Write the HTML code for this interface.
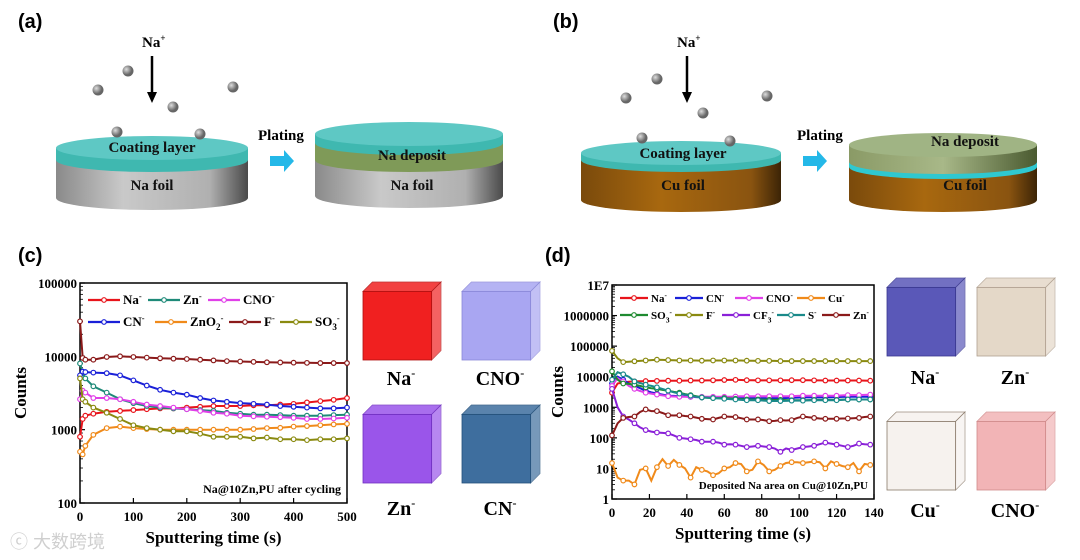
<!DOCTYPE html>
<html><head><meta charset="utf-8"><style>
body{margin:0;background:#fff;}
svg{display:block;font-family:"Liberation Serif",serif;}
.lab{font-family:"Liberation Sans",sans-serif;font-weight:bold;font-size:20px;}
.b{font-weight:bold;}
</style></head><body>
<svg id="fig" width="1080" height="560" viewBox="0 0 1080 560" xmlns="http://www.w3.org/2000/svg">
<defs>
<linearGradient id="gGray" x1="0" x2="1"><stop offset="0" stop-color="#8a8a8a"/><stop offset=".35" stop-color="#c9c9c9"/><stop offset=".8" stop-color="#b0b0b0"/><stop offset="1" stop-color="#4a4a4a"/></linearGradient>
<linearGradient id="gCu" x1="0" x2="1"><stop offset="0" stop-color="#7a4a0c"/><stop offset=".4" stop-color="#a8680f"/><stop offset=".85" stop-color="#8a5410"/><stop offset="1" stop-color="#3c2406"/></linearGradient>
<linearGradient id="gGreen" x1="0" x2="1"><stop offset="0" stop-color="#8a9a66"/><stop offset=".5" stop-color="#a8b888"/><stop offset="1" stop-color="#4a5a30"/></linearGradient>
<radialGradient id="gBall" cx=".35" cy=".35"><stop offset="0" stop-color="#ddd"/><stop offset="1" stop-color="#666"/></radialGradient>
</defs>
<g id="topG"></g>
<g id="chartC"></g>
<g id="chartD"></g>
<g id="cubes"></g>
<text x="10" y="548" font-family="Liberation Sans,Noto Sans CJK SC,sans-serif" font-size="18" fill="#cfcfcf">ⓒ 大数跨境</text>
</svg>
<script>
// ---- chart (c) data ----
const cTimes=[0,5,10,25,50,75,100,125,150,175,200,225,250,275,300,325,350,375,400,425,450,475,500];
const cNa=[800,1400,1550,1650,1750,1800,1850,1900,1950,1950,2000,2050,2100,2100,2100,2150,2150,2200,2250,2350,2450,2550,2700];
const cZn=[8000,6000,5000,3900,3200,2600,2300,2100,2000,1950,1900,1850,1800,1700,1650,1600,1600,1580,1550,1550,1550,1580,1600];
const cCNO=[2600,3400,3200,2700,2700,2600,2400,2200,2100,2000,1900,1800,1700,1650,1550,1520,1500,1480,1450,1400,1400,1420,1450];
const cCN=[5500,6200,6100,6000,5900,5500,4700,4000,3500,3200,3000,2700,2500,2400,2300,2250,2200,2100,2050,2000,1950,1950,2000];
const cZnO2=[500,460,600,850,1050,1100,1050,1020,1000,1000,1000,1000,1000,1000,1000,1020,1050,1060,1100,1120,1150,1180,1200];
const cF=[30000,9500,9000,9000,9800,10000,9800,9600,9400,9300,9200,9000,8800,8600,8500,8400,8300,8250,8200,8150,8100,8100,8100];
const cSO3=[5000,2600,2400,2000,1700,1400,1150,1050,1000,950,950,880,800,800,800,760,780,740,740,720,740,740,760];
const cNames=["Na-","Zn-","CNO-","CN-","ZnO2-","F-","SO3-"];
const cColors=["#e8141b","#1e8a78","#e040e8","#1a20d8","#f08a1a","#8b1a1a","#8a8a10"];
const cYTicks=["100","1000","10000","100000"];
const cXTicks=[0,100,200,300,400,500];
// ---- chart (d) data ----
const dTimes=[0,3,6,9,12,15,18,21,24,27,30,33,36,39,42,45,48,51,54,57,60,63,66,69,72,75,78,81,84,87,90,93,96,99,102,105,108,111,114,117,120,123,126,129,132,135,138];
const dNa=[3000,6000,6500,6800,7000,7100,7200,7250,7300,7350,7400,7400,7400,7450,7500,7500,7500,7550,7600,7700,7800,7850,7900,7800,7700,7650,7600,7600,7600,7600,7600,7650,7700,7700,7700,7650,7600,7550,7500,7500,7500,7500,7500,7500,7500,7450,7400];
const dCN=[6000,10000,8000,6000,5000,4200,3500,3100,2800,2600,2400,2350,2300,2250,2200,2150,2100,2100,2100,2080,2050,2020,2000,2000,2000,2000,2000,2000,2000,2000,2000,2020,2050,2080,2100,2100,2100,2100,2100,2120,2150,2180,2200,2200,2200,2200,2200];
const dCNO=[5000,9000,7000,5000,4000,3400,3000,2800,2600,2450,2300,2250,2200,2200,2200,2200,2200,2200,2200,2200,2200,2220,2250,2280,2300,2300,2300,2300,2300,2300,2300,2300,2300,2350,2400,2400,2400,2400,2400,2400,2400,2450,2500,2500,2500,2550,2600];
const dCu=[15,5,4,4,3,9,10,4,11,20,12,19,13,10,5,11,9,8,6,7,10,11,15,14,8,9,17,13,8,9,12,15,16,16,15,16,17,16,10,17,14,12,11,15,8,14,13];
const dSO3=[15000,8000,6000,5800,5500,5000,4500,4200,4000,3700,3500,3200,3000,2700,2500,2300,2100,2050,2000,2000,2000,1950,1900,1850,1800,1800,1800,1780,1750,1750,1750,1720,1700,1700,1700,1720,1750,1750,1750,1750,1750,1780,1800,1800,1800,1800,1800];
const dF=[70000,40000,30000,31000,32000,33000,34000,35000,36000,35500,35000,34500,34000,34000,34000,34000,33500,33800,34000,34000,34000,34000,34000,33800,33500,33200,33000,33000,33000,32800,32500,32500,32500,32500,32500,32500,32500,32500,32500,32500,32500,32500,32500,32500,32500,32500,32500];
const dCF3=[4000,1000,500,400,300,220,180,160,150,145,140,120,100,95,90,85,75,75,75,70,60,62,60,55,50,52,55,52,50,45,35,45,40,45,50,52,55,62,70,65,60,55,50,55,65,62,60];
const dS=[8000,14000,12000,10000,7000,6200,5500,5000,4500,4000,3500,3100,2800,2600,2400,2200,2100,2050,2000,1950,1900,1850,1800,1750,1700,1700,1700,1650,1600,1600,1600,1620,1650,1650,1650,1680,1700,1700,1700,1700,1700,1750,1800,1800,1800,1800,1800];
const dZn=[120,300,450,480,500,700,850,750,750,650,550,540,550,520,500,460,420,410,400,450,500,490,480,440,400,400,400,380,350,360,380,370,380,450,500,470,450,430,420,420,420,430,430,440,450,480,500];
const dNames=["Na-","CN-","CNO-","Cu-","SO3-","F-","CF3-","S-","Zn-"];
const dColors=["#e8141b","#1a20d8","#e040e8","#f08a1a","#1e8a30","#8a8a10","#8a20d8","#1a8a8a","#8b1a1a"];
const dYTicks=["1","10","100","1000","10000","100000","1000000","1E7"];
const dXTicks=[0,20,40,60,80,100,120,140];

const NS="http://www.w3.org/2000/svg";
function mk(parent,tag,attrs,text){const e=document.createElementNS(NS,tag);for(const k in attrs)e.setAttribute(k,attrs[k]);if(text!==undefined)e.textContent=text;parent.appendChild(e);return e;}
function ion(t,name,fs){
  const base=name.replace(/-$/,'');
  const parts=base.match(/[A-Za-z]+|\d+/g);
  let shift=0;
  parts.forEach(p=>{
    if(/\d/.test(p)){mk(t,'tspan',{'font-size':fs*0.7,dy:fs*0.3-shift},p);shift=fs*0.3;}
    else{mk(t,'tspan',{dy:-shift},p);shift=0;}
  });
  if(name.endsWith('-')){mk(t,'tspan',{'font-size':fs*0.65,dy:-fs*0.4-shift},'-');}
}

// ---------- schematics ----------
const schem=document.getElementById('topG');
function disk(cx,cyTop,rx,layers,name){
  const g=mk(schem,'g',{});
  
  
  const ry=12;
  for(let i=layers.length-1;i>=0;i--){
    let ys=cyTop+layers.slice(0,i).reduce((a,l)=>a+l[0],0);
    let ye=ys+layers[i][0];
    mk(g,'path',{d:`M${cx-rx},${ys} L${cx-rx},${ye} A${rx},${ry} 0 0 0 ${cx+rx},${ye} L${cx+rx},${ys} Z`,fill:layers[i][1]});
  }
  mk(g,'ellipse',{cx:cx,cy:cyTop,rx:rx,ry:ry,fill:layers[0][2]});
  return g;
}
disk(152,148,96,[[12,'#3fb8b0','#5ec8c4'],[38,'url(#gGray)']],'na-foil-disk');
disk(409,134,94,[[9,'#3fb8b0','#5ec8c4'],[17,'#7f9a58'],[36,'url(#gGray)']],'na-deposit-disk');
disk(681,153,100,[[7,'#3fb8b0','#5ec8c4'],[40,'url(#gCu)']],'cu-foil-disk');
disk(943,145,94,[[17,'url(#gGreen)','#a0b484'],[5,'#2fc8d0'],[33,'url(#gCu)']],'cu-deposit-disk');
const balls=[[98,90],[128,71],[173,107],[233,87],[117,132],[200,134],[626,98],[657,79],[703,113],[767,96],[642,138],[730,141]];
balls.forEach(b=>{const c=mk(schem,'circle',{cx:b[0],cy:b[1],r:5.5,fill:'url(#gBall)'});});
[[152,'(a)',18],[687,'(b)',553]].forEach(a=>{
  mk(schem,'line',{x1:a[0],y1:56,x2:a[0],y2:95,stroke:'#000','stroke-width':2.5});
  mk(schem,'path',{d:`M${a[0]-5},92 L${a[0]+5},92 L${a[0]},103 Z`,fill:'#000'});
  const t=mk(schem,'text',{x:a[0]-10,y:47,'font-size':15,class:'b'},'Na');mk(t,'tspan',{'font-size':9,dy:-6},'+');
  const l=mk(schem,'text',{x:a[2],y:28,class:'lab'},a[1]);
});
[[258,262,'Plating'],[797,795,'Plating']].forEach(p=>{
  mk(schem,'text',{x:p[0],y:140,'font-size':15,class:'b'},p[2]);
  mk(schem,'path',{d:`M${p[1]+8},156 L${p[1]+22},156 L${p[1]+22},150 L${p[1]+32},161 L${p[1]+22},172 L${p[1]+22},166 L${p[1]+8},166 Z`,fill:'#24b8e8'});
});
[[152,152,'Coating layer'],[152,190,'Na foil'],[412,160,'Na deposit'],[412,190,'Na foil'],[683,158,'Coating layer'],[683,190,'Cu foil'],[965,146,'Na deposit'],[965,190,'Cu foil']].forEach(t=>{
  mk(schem,'text',{x:t[0],y:t[1],'font-size':15,class:'b','text-anchor':'middle',fill:'#111'},t[2]);
});

// ---------- charts ----------
function chart(gid,cfg){
  const g=document.getElementById(gid);
  const {x0,x1,y0,y1,xmax,lmin,lmax}=cfg;
  const X=v=>x0+(v/xmax)*(x1-x0);
  const Y=v=>y1-(Math.log10(v)-lmin)/(lmax-lmin)*(y1-y0);
  const frame=mk(g,'rect',{x:x0,y:y0,width:x1-x0,height:y1-y0,fill:'none',stroke:'#000','stroke-width':1.5});
  
  cfg.yTicks.forEach((t,i)=>{
    const v=Math.pow(10,lmin+i);const y=Y(v);
    mk(g,'line',{x1:x0,y1:y,x2:x0+5,y2:y,stroke:'#000','stroke-width':1.2});
    if(i<cfg.yTicks.length-1) for(let k=2;k<10;k++){const yy=Y(v*k);mk(g,'line',{x1:x0,y1:yy,x2:x0+3,y2:yy,stroke:'#000','stroke-width':.8});}
    const tl=mk(g,'text',{x:x0-3,y:y+5,'font-size':cfg.fs,class:'b','text-anchor':'end'},t);
    
  });
  cfg.xTicks.forEach(t=>{
    const x=X(t);mk(g,'line',{x1:x,y1:y1,x2:x,y2:y1-5,stroke:'#000','stroke-width':1.2});
    const tl=mk(g,'text',{x:x,y:y1+18,'font-size':cfg.fs,class:'b','text-anchor':'middle'},t);
    
  });
  const xt=mk(g,'text',{x:(x0+x1)/2,y:y1+40,'font-size':17,class:'b','text-anchor':'middle'},'Sputtering time (s)');
  
  const yt=mk(g,'text',{x:0,y:0,'font-size':17,class:'b','text-anchor':'middle',transform:`translate(${cfg.ytx},${(y0+y1)/2}) rotate(-90)`},'Counts');
  
  cfg.series.forEach((s,i)=>{
    const pts=cfg.times.map((t,j)=>X(t).toFixed(1)+','+Y(s[j]).toFixed(1)).join(' ');
    const pl=mk(g,'polyline',{points:pts,fill:'none',stroke:cfg.colors[i],'stroke-width':2});
    
    cfg.times.forEach((t,j)=>{ if(j%cfg.mEvery===0){
      const m=mk(g,'circle',{cx:X(t),cy:Y(s[j]),r:2.3,fill:'#fff',stroke:cfg.colors[i],'stroke-width':1.2});
      }});
  });
  cfg.names.forEach((n,i)=>{
    const p=cfg.legPos[i];
    const le=mk(g,'g',{});
    
    
    mk(le,'line',{x1:p[0],y1:p[1],x2:p[0]+cfg.legLen,y2:p[1],stroke:cfg.colors[i],'stroke-width':2.2});
    mk(le,'circle',{cx:p[0]+cfg.legLen/2,cy:p[1],r:2.3,fill:'#fff',stroke:cfg.colors[i],'stroke-width':1.2});
    const t=mk(le,'text',{x:p[0]+cfg.legLen+3,y:p[1]+4,'font-size':cfg.legFs,class:'b'});
    ion(t,n,cfg.legFs);
  });
  const ann=mk(g,'text',{x:x1-6,y:y1-10,'font-size':cfg.annFs,class:'b','text-anchor':'end'},cfg.ann);
  
  const pl=mk(g,'text',{x:cfg.lx,y:cfg.ly,class:'lab'},cfg.label);
  
}
chart('chartC',{x0:80,x1:347,y0:283,y1:503,xmax:500,lmin:2,lmax:5,times:cTimes,
  series:[cNa,cZn,cCNO,cCN,cZnO2,cF,cSO3],names:cNames,colors:cColors,yTicks:cYTicks,xTicks:cXTicks,fs:13,ytx:26,mEvery:1,
  legPos:[[88,300],[148,300],[208,300],[88,322],[155,322],[229,322],[280,322]],legLen:32,legFs:13,
  ann:'Na@10Zn,PU after cycling',annFs:12,label:'(c)',lx:18,ly:262});
chart('chartD',{x0:612,x1:874,y0:285,y1:499,xmax:140,lmin:0,lmax:7,times:dTimes,
  series:[dNa,dCN,dCNO,dCu,dSO3,dF,dCF3,dS,dZn],names:dNames,colors:dColors,yTicks:dYTicks,xTicks:dXTicks,fs:13,ytx:563,mEvery:2,
  legPos:[[620,298],[675,298],[735,298],[797,298],[620,315],[675,315],[722,315],[777,315],[822,315]],legLen:28,legFs:11,
  ann:'Deposited Na area on Cu@10Zn,PU',annFs:11,label:'(d)',lx:545,ly:262});

// ---------- cubes ----------
const cubesG=document.getElementById('cubes');
function cube(x,y,s,col,edge,label,lx,ly,name){
  const g=mk(cubesG,'g',{});
  
  
  const d=s*0.12;
  mk(g,'rect',{x:x,y:y+d,width:s-d,height:s-d,fill:col,stroke:edge,'stroke-width':.8});
  mk(g,'path',{d:`M${x},${y+d} L${x+d},${y} L${x+s},${y} L${x+s-d},${y+d} Z`,fill:col,stroke:edge,'stroke-width':.8,opacity:.85});
  mk(g,'path',{d:`M${x+s-d},${y+d} L${x+s},${y} L${x+s},${y+s-d} L${x+s-d},${y+s} Z`,fill:col,stroke:edge,'stroke-width':.8,opacity:.7});
  const t=mk(g,'text',{x:lx,y:ly,'font-size':20,class:'b','text-anchor':'middle'},label.replace('-',''));
  mk(t,'tspan',{'font-size':12,dy:-8},'-');
}
cube(363,282,78,'#f02020','#b01010','Na-',401,385,'na-cube');
cube(462,282,78,'#a9a6f2','#8a88d8','CNO-',500,385,'cno-cube');
cube(363,405,78,'#9a55ea','#7030c0','Zn-',401,515,'zn-cube');
cube(462,405,78,'#3e6e9e','#24507a','CN-',500,515,'cn-cube');
cube(887,278,78,'#5a58b8','#3a3890','Na-',925,384,'na-cube-d');
cube(977,278,78,'#e4d8c8','#b0a090','Zn-',1015,384,'zn-cube-d');
cube(887,412,78,'#f6f2ee','#8a7a6a','Cu-',925,517,'cu-cube');
cube(977,412,78,'#f2b4b6','#d08a8a','CNO-',1015,517,'cno-cube-d');
</script>
</body></html>
